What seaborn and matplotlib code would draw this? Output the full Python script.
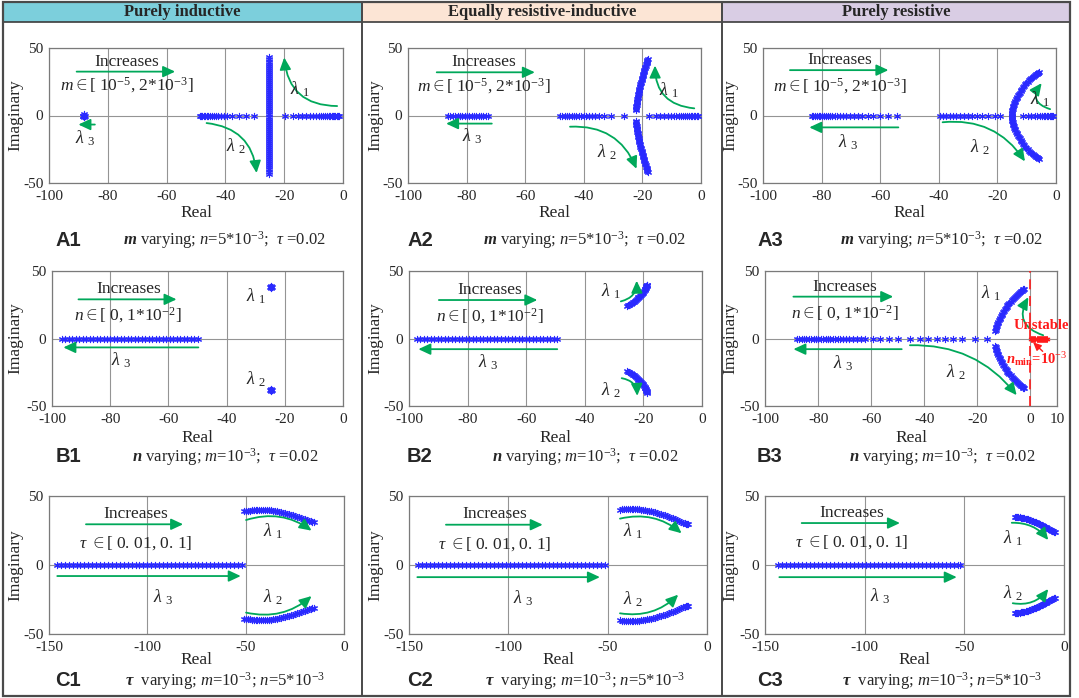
import pandas as pd
import seaborn as sns
import matplotlib.pyplot as plt
from matplotlib.patches import Rectangle

# ---------------- values ----------------
# A1 : m varying, purely inductive
a1_lam3_x = [-88.6, -88.3, -88.0, -87.7, -88.2, -88.2]
a1_lam3_y = [0.0, 0.0, 0.0, 0.0, 0.8, -0.8]
a1_axis_x = [-48.8, -48.3, -47.8, -47.3, -46.8, -46.3, -45.8, -45.2, -44.6, -44.0, -43.3, -42.5,
             -41.6, -40.6, -39.4, -37.6, -35.3, -33.0, -30.2, -19.7, -16.9, -15.3, -13.9, -12.6,
             -11.3, -10.2, -9.2, -8.3, -7.5, -6.8, -6.1, -5.5, -4.9, -4.4, -3.9, -3.4, -3.0, -2.6,
             -2.2, -1.8, -1.4]
a1_pair_x = -25.2
a1_pair_y = [-43, -41.5, -40, -38.5, -37, -35.5, -34, -32.5, -31, -29.5, -28, -26.5, -25, -23.5,
             -22, -20.5, -19, -17.5, -16, -14.5, -13, -11.5, -10, -8.5, -7, -5.5, -4, -2.5, -1,
             1, 2.5, 4, 5.5, 7, 8.5, 10, 11.5, 13, 14.5, 16, 17.5, 19, 20.5, 22, 23.5, 25, 26.5,
             28, 29.5, 31, 32.5, 34, 35.5, 37, 38.5, 40, 41.5, 43]

# A2 : m varying, equally resistive-inductive
a2_lam3_x = [-86.3, -85.5, -84.7, -83.9, -83.1, -82.3, -81.5, -80.7, -79.9, -79.1, -78.3, -77.5,
             -76.7, -75.9, -75.1, -74.3, -73.5, -72.8]
a2_axis_x = [-48.1, -47.3, -46.5, -45.7, -44.9, -44.1, -43.3, -42.5, -41.7, -40.9, -40.0, -39.1,
             -38.2, -37.2, -36.1, -34.8, -33.0, -30.6, -26.3, -17.9, -15.5, -14.0, -12.6, -11.4,
             -10.3, -9.3, -8.4, -7.5, -6.7, -6.0, -5.3, -4.7, -4.1, -3.5, -3.0, -2.5, -2.0, -1.5, -1.0]
a2_arc_x = [-22.2, -22.15, -22.1, -22.05, -22.0, -21.95, -21.9, -21.8, -21.7, -21.65, -21.6, -21.5,
            -21.4, -21.3, -21.2, -21.1, -21.0, -20.9, -20.8, -20.7, -20.6, -20.45, -20.3, -20.2,
            -20.1, -19.95, -19.8, -19.65, -19.5, -19.4, -19.3, -19.15, -19.0, -18.85, -18.7,
            -18.6, -18.5, -18.4, -18.3, -18.2]
a2_arc_y = [4, 5, 6, 7, 8, 9, 10, 11, 12, 13, 14, 15, 16, 17, 18, 19, 20, 21, 22, 23, 24, 25, 26,
            27, 28, 29, 30, 31, 32, 33, 34, 35, 36, 37, 38, 38.8, 39.5, 40.2, 40.8, 41.5]

# A3 : m varying, purely resistive
a3_lam3_x = [-83.4, -82.8, -82.2, -81.6, -81.0, -80.4, -79.8, -79.2, -78.5, -77.8, -77.1, -76.3,
             -75.5, -74.6, -73.7, -72.7, -71.6, -70.4, -69.1, -67.7, -66.1, -64.3, -62.3, -60.0,
             -57.4, -54.4]
a3_axis_x = [-39.6, -38.5, -37.4, -36.3, -35.2, -34.0, -32.8, -31.5, -30.1, -28.6, -27.0, -25.2,
             -23.2, -20.9, -19.1, -11.3, -9.6, -8.4, -7.3, -6.4, -5.6, -4.9, -4.2, -3.6, -3.1,
             -2.6, -2.1, -1.7, -1.3, -1.0]
a3_arc_x = [-15.1, -15.05, -15.0, -14.95, -14.9, -14.8, -14.7, -14.55, -14.4, -14.25, -14.1,
            -13.9, -13.7, -13.45, -13.2, -12.95, -12.7, -12.4, -12.1, -11.8, -11.5, -11.15, -10.8,
            -10.45, -10.1, -9.7, -9.3, -8.85, -8.4, -7.95, -7.5, -7.1, -6.8, -6.5, -6.2, -6.0, -5.8]
a3_arc_y = [0, 1, 2, 3, 4, 5, 6, 7, 8, 9, 10, 11, 12, 13, 14, 15, 16, 17, 18, 19, 20, 21, 22, 23,
            24, 25, 26, 27, 28, 28.8, 29.5, 30.0, 30.5, 31.0, 31.5, 31.8, 32]

# B1 : n varying, purely inductive
b1_lam3_x = [-96.7, -95.5, -94.3, -93.1, -91.9, -90.7, -89.5, -88.3, -87.1, -85.9, -84.7, -83.5,
             -82.3, -81.1, -79.9, -78.7, -77.5, -76.3, -75.1, -73.9, -72.7, -71.5, -70.3, -69.1,
             -67.9, -66.7, -65.5, -64.3, -63.1, -61.9, -60.7, -59.5, -58.3, -57.1, -55.9, -54.7,
             -53.5, -52.3, -51.1, -49.9]
b1_pair_x = [-25.1, -24.8, -24.5, -24.8, -24.8]
b1_pair_y = [38.0, 38.0, 38.0, 38.8, 37.2]

# B2 : n varying, equally resistive-inductive
b2_lam3_x = [-97.4, -96.2, -95.0, -93.8, -92.6, -91.4, -90.2, -89.0, -87.8, -86.6, -85.4, -84.2,
             -83.0, -81.8, -80.6, -79.4, -78.2, -77.0, -75.8, -74.6, -73.4, -72.2, -71.0, -69.8,
             -68.6, -67.4, -66.2, -65.0, -63.8, -62.6, -61.4, -60.2, -59.0, -57.8, -56.6, -55.4,
             -54.2, -53.0, -51.8, -50.6, -49.6]
b2_arc_x = [-25.5, -25.1, -24.8, -24.4, -24.0, -23.6, -23.3, -22.9, -22.6, -22.3, -22.0, -21.7,
            -21.4, -21.1, -20.9, -20.6, -20.4, -20.2, -20.0, -19.8, -19.6, -19.45, -19.3, -19.2,
            -19.1, -19.0, -18.9, -18.85, -18.8]
b2_arc_y = [24, 24.5, 25, 25.6, 26.2, 26.8, 27.4, 28, 28.6, 29.2, 29.8, 30.4, 31, 31.6, 32.2, 32.8,
            33.4, 34, 34.6, 35.2, 35.8, 36.4, 37, 37.6, 38.2, 38.7, 39.2, 39.6, 40]

# B3 : n varying, purely resistive
b3_lam3_x = [-88.0, -87.1, -86.2, -85.3, -84.4, -83.5, -82.6, -81.7, -80.8, -79.9, -79.0, -78.1,
             -77.2, -76.3, -75.4, -74.5, -73.6, -72.6, -71.6, -70.5, -69.4, -68.2, -66.9, -65.5,
             -64.0, -62.2, -59.2, -56.5, -53.3, -49.8, -45.4, -41.6, -38.5, -35.3, -32.2, -29.1,
             -25.9, -20.9, -16.5]
b3_arc_x = [-13.2, -13.1, -13.0, -12.85, -12.7, -12.5, -12.3, -12.1, -11.9, -11.65, -11.4, -11.15,
            -10.9, -10.6, -10.3, -10.0, -9.7, -9.35, -9.0, -8.65, -8.3, -7.9, -7.5, -7.1, -6.7,
            -6.3, -5.9, -5.5, -5.1, -4.7, -4.3, -3.95, -3.6, -3.25, -2.9, -2.65, -2.4]
b3_arc_y = [5.5, 6.5, 7.5, 8.5, 9.5, 10.5, 11.5, 12.5, 13.5, 14.5, 15.5, 16.5, 17.5, 18.5, 19.5,
            20.5, 21.5, 22.5, 23.5, 24.5, 25.5, 26.4, 27.3, 28.2, 29.1, 30.0, 30.8, 31.6, 32.3,
            33.0, 33.7, 34.3, 34.9, 35.4, 35.9, 36.3, 36.6]
b3_unstable_x = [0.3, 0.7, 1.1, 1.5, 1.9, 2.3, 2.7, 3.1, 3.5, 3.9, 4.3, 4.7, 5.1, 5.5, 5.9, 6.3]

# C1 : tau varying, purely inductive
c1_lam3_x = [-146, -144, -142, -140, -138, -136, -134, -132, -130, -128, -126, -124, -122, -120,
             -118, -116, -114, -112, -110, -108, -106, -104, -102, -100, -98, -96, -94, -92, -90,
             -88, -86, -84, -82, -80, -78, -76, -74, -72, -70, -68, -66, -64, -62, -60, -58, -56,
             -54, -52]
c1_arc_x = [-51.0, -50.0, -49.0, -48.0, -47.0, -46.0, -45.0, -44.0, -43.0, -42.0, -41.0, -40.0,
            -39.0, -38.0, -37.0, -36.0, -35.0, -34.0, -33.0, -32.0, -31.0, -30.0, -29.0, -28.0,
            -27.0, -26.0, -25.0, -24.0, -23.0, -22.0, -21.0, -20.0, -19.0, -18.0, -17.0, -16.2,
            -15.5]
c1_arc_y = [38.8, 39.0, 39.2, 39.4, 39.5, 39.7, 39.8, 39.9, 39.9, 40.0, 40.0, 40.0, 39.9, 39.8,
            39.7, 39.4, 39.2, 39.0, 38.7, 38.4, 38.0, 37.7, 37.3, 36.9, 36.5, 36.0, 35.6, 35.1,
            34.6, 34.1, 33.6, 33.1, 32.7, 32.2, 31.7, 31.3, 31.0]

# C2 : tau varying, equally resistive-inductive
c2_lam3_x = [-145.3, -143.3, -141.3, -139.3, -137.3, -135.3, -133.3, -131.3, -129.3, -127.3,
             -125.3, -123.3, -121.3, -119.3, -117.3, -115.3, -113.3, -111.3, -109.3, -107.3,
             -105.3, -103.3, -101.3, -99.3, -97.3, -95.3, -93.3, -91.3, -89.3, -87.3, -85.3,
             -83.3, -81.3, -79.3, -77.3, -75.3, -73.3, -71.3, -69.3, -67.3, -65.3, -63.3, -61.3,
             -59.3, -57.3, -55.3, -53.3, -51.4]
c2_arc_x = [-43.8, -42.9, -42.0, -41.0, -40.0, -39.0, -38.0, -37.0, -36.0, -35.0, -34.0, -33.0,
            -32.0, -31.0, -30.0, -29.0, -28.0, -27.0, -26.0, -25.0, -24.0, -23.0, -22.0, -21.0,
            -20.0, -19.0, -18.0, -17.0, -16.0, -15.0, -14.0, -13.0, -12.0, -11.2, -10.5, -9.9, -9.4]
c2_arc_y = [40.2, 40.3, 40.4, 40.45, 40.5, 40.55, 40.6, 40.55, 40.5, 40.4, 40.3, 40.1, 39.9, 39.7,
            39.4, 39.1, 38.8, 38.5, 38.1, 37.7, 37.3, 36.9, 36.4, 35.9, 35.4, 34.9, 34.3, 33.7,
            33.1, 32.5, 31.9, 31.3, 30.7, 30.3, 29.9, 29.6, 29.4]

# C3 : tau varying, purely resistive
c3_lam3_x = [-143.3, -141.3, -139.3, -137.3, -135.3, -133.3, -131.3, -129.3, -127.3, -125.3,
             -123.3, -121.3, -119.3, -117.3, -115.3, -113.3, -111.3, -109.3, -107.3, -105.3,
             -103.3, -101.3, -99.3, -97.3, -95.3, -93.3, -91.3, -89.3, -87.3, -85.3, -83.3,
             -81.3, -79.3, -77.3, -75.3, -73.3, -71.3, -69.3, -67.3, -65.3, -63.3, -61.3, -59.3,
             -57.3, -55.3, -53.3, -52.2]
c3_arc_x = [-24.6, -24.0, -23.5, -22.9, -22.3, -21.7, -21.1, -20.5, -19.9, -19.3, -18.7, -18.1,
            -17.5, -16.9, -16.3, -15.7, -15.1, -14.5, -13.9, -13.3, -12.7, -12.1, -11.5, -10.9,
            -10.3, -9.7, -9.1, -8.5, -7.9, -7.3, -6.7, -6.1, -5.6, -5.1, -4.6]
c3_arc_y = [34.8, 34.75, 34.7, 34.6, 34.5, 34.35, 34.2, 34.0, 33.8, 33.55, 33.3, 33.05, 32.8,
            32.5, 32.2, 31.85, 31.5, 31.15, 30.8, 30.4, 30.0, 29.6, 29.2, 28.75, 28.3, 27.85,
            27.4, 26.9, 26.4, 25.9, 25.4, 24.9, 24.5, 24.1, 23.7]

headers = ['Purely inductive', 'Equally resistive-inductive', 'Purely resistive']
header_colors = ['#7ccfdc', '#fce5d5', '#d9cde4']
panel_names = [['A1', 'A2', 'A3'], ['B1', 'B2', 'B3'], ['C1', 'C2', 'C3']]
captions = [r'$\mathbfit{m}$ varying; $n$=5*10$^{-3}$;  $\tau$ =0.02',
            r'$\mathbfit{n}$ varying; $m$=10$^{-3}$;  $\tau$ =0.02',
            r'$\mathbfit{\tau}$  varying; $m$=10$^{-3}$; $n$=5*10$^{-3}$']
range_texts = [r'$m\in$[ 10$^{-5}$, 2*10$^{-3}$]',
               r'$n\in$[ 0, 1*10$^{-2}$]',
               r'$\tau$ $\in$[ 0. 01, 0. 1]']

# ---------------- style ----------------
sns.set_theme(style='white')
plt.rcParams['font.family'] = ['Liberation Serif', 'DejaVu Serif']
plt.rcParams['mathtext.fontset'] = 'custom'
plt.rcParams['mathtext.rm'] = 'Liberation Serif'
plt.rcParams['mathtext.it'] = 'Liberation Serif:italic'
plt.rcParams['mathtext.bf'] = 'Liberation Serif:bold'
plt.rcParams['mathtext.bfit'] = 'Liberation Serif:bold:italic'
plt.rcParams['axes.unicode_minus'] = False

BLUE = '#2a2aff'
GREEN = '#00a85a'
RED = '#ff1a1a'
W, H = 1079, 698

fig = plt.figure(figsize=(W / 100, H / 100), dpi=100)

# background layer (pixel coordinates) for frame, headers, captions
bg = fig.add_axes([0, 0, 1, 1], zorder=-1)
bg.set_xlim(0, W)
bg.set_ylim(H, 0)
bg.axis('off')
col_x = [3, 362, 722, 1070]
for i in range(3):
    bg.add_patch(Rectangle((col_x[i], 2), col_x[i + 1] - col_x[i], 20,
                           facecolor=header_colors[i], edgecolor='#3c3c3c', lw=1.2))
    bg.text((col_x[i] + col_x[i + 1]) / 2, 12.5, headers[i], ha='center', va='center',
            fontsize=12, fontweight='bold')
bg.add_patch(Rectangle((3, 2), 1067, 694, fill=False, edgecolor='#4a4a4a', lw=1.6))
for xv in col_x[1:3]:
    bg.plot([xv, xv], [2, 696], color='#4a4a4a', lw=1.4)

row_caption_y = [240, 457, 681]
name_x = [68, 420, 770]
caption_x = [225, 585, 942]
for r in range(3):
    for c in range(3):
        bg.text(name_x[c], row_caption_y[r], panel_names[r][c], ha='center', va='center',
                fontsize=14.5, fontweight='bold', family=['Liberation Sans', 'DejaVu Sans'])
        bg.text(caption_x[c], row_caption_y[r], captions[r], ha='center', va='center', fontsize=12)

# panel rectangles in pixels: (left, top, right, bottom)
rects = [[(49, 48, 343, 183), (408, 48, 701, 183), (763, 48, 1056, 183)],
         [(52, 271, 343, 406), (409, 271, 702, 406), (765, 271, 1057, 406)],
         [(49, 496, 344, 634), (409, 496, 707, 634), (765, 496, 1064, 634)]]
ylabel_px = [15, 375, 730]
xlabel_px = [213, 438, 660]


def make_ax(r, c):
    x0, top, x1, bottom = rects[r][c]
    return fig.add_axes([x0 / W, 1 - bottom / H, (x1 - x0) / W, (bottom - top) / H])


def finish(ax, r, c, xlim, xticks):
    x0, top, x1, bottom = rects[r][c]
    ax.set_xlim(xlim)
    ax.set_ylim(-50, 50)
    ax.set_xticks(xticks)
    ax.set_yticks([-50, 0, 50])
    ax.grid(True, color='#949494', lw=0.8)
    ax.set_axisbelow(True)
    ax.tick_params(axis='x', length=0, labelsize=11, pad=5)
    ax.tick_params(axis='y', length=0, labelsize=11, pad=4)
    for s in ax.spines.values():
        s.set_color('#7a7a7a')
        s.set_linewidth(0.9)
    ax.set_xlabel('Real', fontsize=12.5)
    ax.set_ylabel('Imaginary', fontsize=12.5)
    ax.xaxis.set_label_coords(0.5, -(xlabel_px[r] - bottom) / (bottom - top))
    ax.xaxis.label.set_va('center')
    ax.yaxis.set_label_coords((ylabel_px[c] - x0) / (x1 - x0), 0.5)
    ax.yaxis.label.set_va('center')


def on_axis(xs):
    return pd.DataFrame({'re': xs, 'im': [0.0] * len(xs)})


def branch(xs, ys, sign=1):
    return pd.DataFrame({'re': xs, 'im': [sign * v for v in ys]})


def points(ax, frames, color=BLUE, s=20, lw=0.8):
    df = pd.concat(frames, ignore_index=True)
    sns.scatterplot(data=df, x='re', y='im', ax=ax, color=color, marker=(6, 2, 0), s=s,
                    linewidth=lw, legend=False, zorder=3)


def arrow(ax, start, end, rad=0.0, color=GREEN, lw=1.3, scale=12):
    ax.annotate('', xy=end, xytext=start,
                arrowprops=dict(arrowstyle='-|>,head_length=0.6,head_width=0.28',
                                mutation_scale=scale, color=color, lw=lw, shrinkA=0, shrinkB=0,
                                connectionstyle=f'arc3,rad={rad}'))


def lam(ax, x, y, k):
    ax.text(x, y, r'$\lambda$ $_{%d}$' % k, ha='center', va='center', fontsize=13)


def increases(ax, x0, x1, y, xt, yt, yr, r):
    arrow(ax, (x0, y), (x1, y))
    ax.text(xt, yt, 'Increases', ha='center', va='center', fontsize=12.5)
    ax.text(xt, yr, range_texts[r], ha='center', va='center', fontsize=12.5)


ticks100 = [-100, -80, -60, -40, -20, 0]
ticks150 = [-150, -100, -50, 0]

# ---- A1
ax = make_ax(0, 0)
points(ax, [branch(a1_lam3_x, a1_lam3_y), on_axis(a1_axis_x),
            branch([a1_pair_x] * len(a1_pair_y), a1_pair_y)])
finish(ax, 0, 0, (-100, 0), ticks100)
increases(ax, -90.6, -57.1, 32.5, -73.6, 40, 22.7, 0)
arrow(ax, (-84.4, -6.7), (-90.0, -6.7))
lam(ax, -87.5, -17, 3)
arrow(ax, (-2, 7), (-20, 43), rad=-0.45)
lam(ax, -14.6, 19.7, 1)
arrow(ax, (-46.4, -5.6), (-29.4, -42.6), rad=-0.4)
lam(ax, -36.2, -22.9, 2)

# ---- A2
ax = make_ax(0, 1)
points(ax, [on_axis(a2_lam3_x), on_axis(a2_axis_x), branch(a2_arc_x, a2_arc_y),
            branch(a2_arc_x, a2_arc_y, -1)])
finish(ax, 0, 1, (-100, 0), ticks100)
increases(ax, -90.2, -56.7, 32, -74, 40, 22, 0)
arrow(ax, (-71.4, -6), (-87, -6))
lam(ax, -78, -15.5, 3)
arrow(ax, (-2.3, 5.3), (-15.7, 37), rad=-0.45)
lam(ax, -10.9, 18.6, 1)
arrow(ax, (-44.7, -8.3), (-22, -39.5), rad=-0.35)
lam(ax, -32, -27, 2)

# ---- A3
ax = make_ax(0, 2)
points(ax, [on_axis(a3_lam3_x), on_axis(a3_axis_x), branch(a3_arc_x, a3_arc_y),
            branch(a3_arc_x, a3_arc_y, -1)])
finish(ax, 0, 2, (-100, 0), ticks100)
increases(ax, -90.8, -57.2, 33.6, -73.7, 41, 21.5, 0)
arrow(ax, (-53.8, -8.8), (-84.2, -8.8))
lam(ax, -70.9, -20, 3)
arrow(ax, (-2, 4.7), (-4.9, 24), rad=-0.7)
lam(ax, -5.5, 12.4, 1)
arrow(ax, (-38.7, -5), (-10.6, -34), rad=-0.3)
lam(ax, -26, -23.8, 2)

# ---- B1
ax = make_ax(1, 0)
points(ax, [on_axis(b1_lam3_x), branch(b1_pair_x, b1_pair_y), branch(b1_pair_x, b1_pair_y, -1)])
finish(ax, 1, 0, (-100, 0), ticks100)
increases(ax, -90.9, -57.2, 29, -73.8, 36.6, 17, 1)
arrow(ax, (-49.7, -6.6), (-96.1, -6.6))
lam(ax, -76, -16, 3)
lam(ax, -29.7, 31, 1)
lam(ax, -29.7, -30, 2)

# ---- B2
ax = make_ax(1, 1)
points(ax, [on_axis(b2_lam3_x), branch(b2_arc_x, b2_arc_y), branch(b2_arc_x, b2_arc_y, -1)])
finish(ax, 1, 1, (-100, 0), ticks100)
increases(ax, -89.8, -56.2, 28.5, -72.6, 35.7, 16.5, 1)
arrow(ax, (-49.4, -7.9), (-96.8, -7.9))
lam(ax, -73, -17.4, 3)
arrow(ax, (-27.7, 27.5), (-22.3, 42.8), rad=0.4)
lam(ax, -31, 35, 1)
arrow(ax, (-27.4, -29.4), (-22.1, -42.5), rad=-0.4)
lam(ax, -31, -38.5, 2)

# ---- B3
ax = make_ax(1, 2)
points(ax, [on_axis(b3_lam3_x), branch(b3_arc_x, b3_arc_y), branch(b3_arc_x, b3_arc_y, -1)])
points(ax, [on_axis(b3_unstable_x)], color=RED, s=14, lw=0.7)
finish(ax, 1, 2, (-100, 10), [-100, -80, -60, -40, -20, 0, 10])
ax.axvline(0, color=RED, lw=1.2, ls=(0, (6, 4)), zorder=4)
increases(ax, -89.3, -51.7, 31, -69.9, 38.4, 18.6, 1)
arrow(ax, (-48.5, -7.9), (-89.3, -7.9))
lam(ax, -70.5, -18.6, 3)
arrow(ax, (4.8, 2.4), (-0.8, 30.6), rad=-0.6)
lam(ax, -14.6, 33.4, 1)
arrow(ax, (-45.4, -5), (-5.2, -42), rad=-0.25)
lam(ax, -27.8, -24.8, 2)
ax.text(4.0, 9.5, 'Unstable', color=RED, fontsize=10.5, fontweight='bold',
        ha='center', va='center', zorder=5)
ax.text(2.3, -15.5, r'$\mathbfit{n}_{\mathbf{min}}$=10$^{-3}$', color=RED, fontsize=10.5,
        fontweight='bold', ha='center', va='center', zorder=5)
arrow(ax, (4.6, -9.5), (1.0, -2.8), color=RED, lw=1.0, scale=8)

# ---- C1
ax = make_ax(2, 0)
points(ax, [on_axis(c1_lam3_x), branch(c1_arc_x, c1_arc_y), branch(c1_arc_x, c1_arc_y, -1)])
finish(ax, 2, 0, (-150, 0), ticks150)
increases(ax, -131.2, -81.8, 29.5, -105.8, 37, 15.7, 2)
arrow(ax, (-145.8, -8), (-52.5, -8))
lam(ax, -91.9, -23, 3)
arrow(ax, (-49.8, 32.6), (-16.5, 24.9), rad=-0.25)
lam(ax, -36, 24.6, 1)
arrow(ax, (-49.8, -34.5), (-16.5, -22.5), rad=0.25)
lam(ax, -36, -23.4, 2)

# ---- C2
ax = make_ax(2, 1)
points(ax, [on_axis(c2_lam3_x), branch(c2_arc_x, c2_arc_y), branch(c2_arc_x, c2_arc_y, -1)])
finish(ax, 2, 1, (-150, 0), ticks150)
increases(ax, -131.4, -82.7, 29.2, -106.7, 36.8, 15.2, 2)
arrow(ax, (-145.8, -8.8), (-53.9, -8.8))
lam(ax, -92.5, -24, 3)
arrow(ax, (-43.8, 33.6), (-12.8, 23), rad=-0.25)
lam(ax, -37.2, 24.5, 1)
arrow(ax, (-43.8, -35), (-14.5, -21.5), rad=0.25)
lam(ax, -37.2, -24.5, 2)

# ---- C3
ax = make_ax(2, 2)
points(ax, [on_axis(c3_lam3_x), branch(c3_arc_x, c3_arc_y), branch(c3_arc_x, c3_arc_y, -1)])
finish(ax, 2, 2, (-150, 0), ticks150)
increases(ax, -131.6, -82.3, 30.4, -106.5, 37.7, 16.4, 2)
arrow(ax, (-142.8, -8.8), (-53.8, -8.8))
lam(ax, -92.3, -22.8, 3)
arrow(ax, (-26.2, 30.6), (-7.9, 18.1), rad=-0.25)
lam(ax, -25.4, 19.6, 1)
arrow(ax, (-25.7, -27.7), (-7.9, -17.4), rad=0.3)
lam(ax, -25.4, -20.3, 2)

fig.savefig('out.png', dpi=100)
